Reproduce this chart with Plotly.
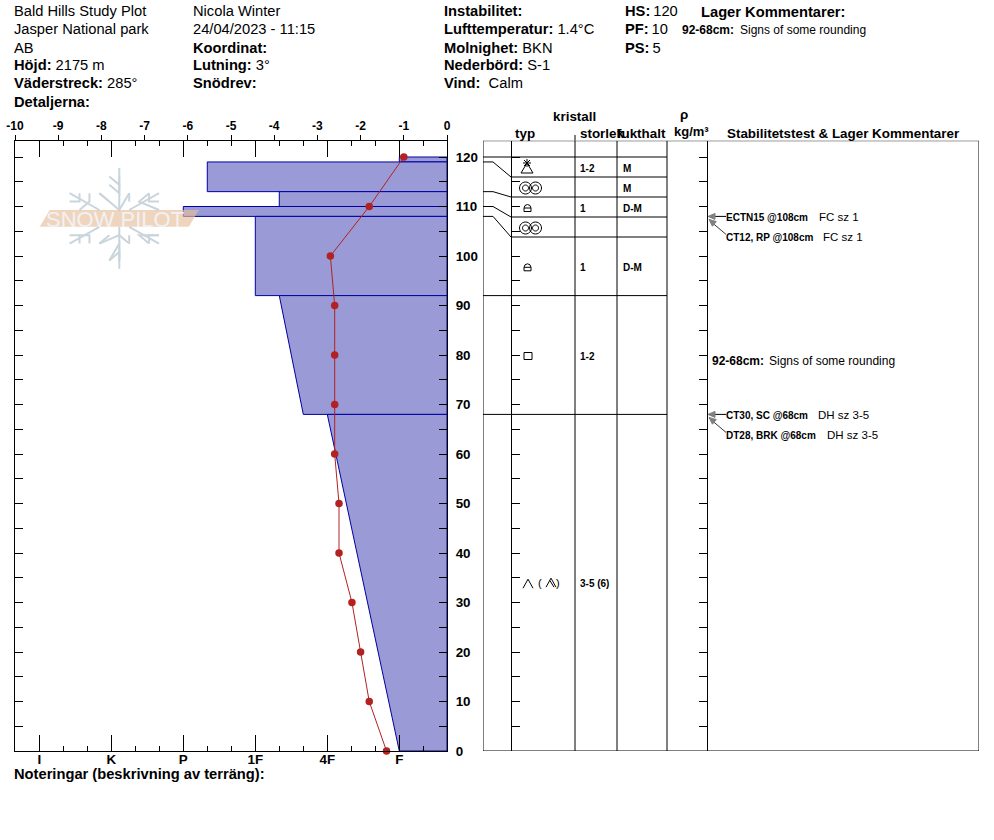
import math
import plotly.graph_objects as go

W, H = 994, 840
FONT = "Liberation Sans"

# Temperature profile
temp_depth = [120, 110, 100, 90, 80, 70, 60, 50, 40, 30, 20, 10, 0]
temp_value = [-1.0, -1.8, -2.7, -2.6, -2.6, -2.6, -2.6, -2.5, -2.5, -2.2, -2.0, -1.8, -1.4]

# Layers (top to bottom). Hardness index: F=1, 4F=2, 1F=3, P=4, K=5, I=6
layer_top = [120, 119, 113, 110, 108, 92, 68]
layer_bottom = [119, 113, 110, 108, 92, 68, 0]
hard_top = [1.0, 3.667, 2.667, 4.0, 3.0, 2.667, 2.0]
hard_bottom = [1.0, 3.667, 2.667, 4.0, 3.0, 2.333, 1.0]
layer_symbol = ["pp", "mf", "fc", "mf", "fc", "sq", "dh"]
layer_size = ["1-2", "", "1", "", "1", "1-2", "3-5 (6)"]
layer_moist = ["M", "M", "D-M", "", "D-M", "", ""]

hard_ticks = [1, 2, 3, 4, 5, 6]
hard_labels = ["F", "4F", "1F", "P", "K", "I"]
temp_ticks = list(range(-10, 1))
temp_labels = [str(t) for t in temp_ticks]
depth_ticks = list(range(0, 121, 5))
depth_labels = [str(d) if d % 10 == 0 else "" for d in depth_ticks]

# Stability tests: (depth, bold, regular, regular x)
test_depth = [108, 108, 68, 68]
test_name = ["ECTN15 @108cm", "CT12, RP @108cm", "CT30, SC @68cm", "DT28, BRK @68cm"]
test_note = ["FC sz 1", "FC sz 1", "DH sz 3-5", "DH sz 3-5"]
test_note_x = [817, 821, 816, 825]

# Frame geometry (pixels)
PL, PR, PT, PB = 15, 447, 140.7, 751
CM_PX = 4.95
DEPTH_MAX = (PB - PT) / CM_PX
HARD_PX = 72
HARD_RIGHT = 1 - (PR - 399.3) / HARD_PX
HARD_LEFT = HARD_RIGHT + (PR - PL) / HARD_PX
TBL_L, TBL_R = 483, 979
COLS = [575, 617, 667]
SPINE_A, SPINE_B = 511, 707
BLUE_LINE = "#0000a0"
BLUE_FILL = "#9a9ad6"
RED = "#b22222"


def fx(x):
    return x / W


def fy(y):
    return 1 - y / H


fig = go.Figure()

# Layer polygons on the hardness axis
for t, b, ht, hb in zip(layer_top, layer_bottom, hard_top, hard_bottom):
    fig.add_trace(go.Scatter(
        x=[HARD_RIGHT, ht, hb, HARD_RIGHT, HARD_RIGHT], y=[t, t, b, b, t],
        mode="lines", fill="toself", fillcolor=BLUE_FILL,
        line=dict(color=BLUE_LINE, width=1), xaxis="x", yaxis="y",
        hoverinfo="skip", showlegend=False))

# Temperature profile
fig.add_trace(go.Scatter(
    x=temp_value, y=temp_depth, mode="lines+markers", xaxis="x2", yaxis="y",
    line=dict(color=RED, width=1), marker=dict(color=RED, size=7.5),
    cliponaxis=False, showlegend=False))

# Empty traces so that table axes are drawn
for ya in ("y2", "y3", "y4"):
    fig.add_trace(go.Scatter(x=[], y=[], xaxis="x3", yaxis=ya, showlegend=False))

shapes = []
ann = []


def text(x, y, s, size=14.7, anchor="left", color="black"):
    ann.append(dict(x=fx(x), y=fy(y), xref="paper", yref="paper", text=s, showarrow=False,
                    xanchor=anchor, yanchor="middle", xshift=-1,
                    font=dict(family=FONT, size=size, color=color), borderpad=0))


def tbl_line(x0, y0, x1, y1):
    shapes.append(dict(type="line", xref="x3", yref="y2", x0=x0, x1=x1, y0=y0, y1=y1,
                       line=dict(color="black", width=1)))


def glyph(x, cm, path, width=1.0, fill=None, color="black"):
    s = dict(type="path", xref="x3", yref="y2", xsizemode="pixel", ysizemode="pixel",
             xanchor=x, yanchor=cm, path=path, line=dict(color=color, width=width))
    if fill:
        s["fillcolor"] = fill
    shapes.append(s)


def poly(pts, close=False):
    p = "M" + " L".join(f"{a:.2f},{b:.2f}" for a, b in pts)
    return p + (" Z" if close else "")


def ring(cx, cy, r):
    return poly([(cx + r * math.cos(i * math.pi / 12), cy + r * math.sin(i * math.pi / 12))
                 for i in range(24)], True)


SYMBOLS = {
    "pp": " ".join([poly([(-6, -5), (6, -5), (0, 5)], True), poly([(-4, 5), (4, 5)]),
                    poly([(-3, 8), (3, 2)]), poly([(-3, 2), (3, 8)]), poly([(0, 9), (0, 1)])]),
    "mf": " ".join([ring(-5, 0, 6), ring(5, 0, 6), ring(-5, 0, 3), ring(5, 0, 3)]),
    "fc": " ".join([poly([(-3.5, -3.5), (3.5, -3.5), (3.5, 0), (2.5, 2.5), (0, 3.5),
                          (-2.5, 2.5), (-3.5, 0)], True), poly([(-3.5, 0), (3.5, 0)])]),
    "sq": poly([(-4, -3.5), (4, -3.5), (4, 3.5), (-4, 3.5)], True),
    "dh": poly([(-5, -4.5), (0, 4.5), (5, -4.5)]),
}
SYMBOL_X = {"pp": 527, "mf": 530.5, "fc": 527.5, "sq": 528, "dh": 528}

# Table frame
shapes.append(dict(type="rect", xref="x3", yref="y2", x0=TBL_L, x1=TBL_R, y0=0, y1=DEPTH_MAX,
                   line=dict(color="black", width=1)))
for c in COLS:
    tbl_line(c, 0, c, DEPTH_MAX)
shapes.append(dict(type="line", xref="x3", yref="paper", x0=COLS[0], x1=COLS[0],
                   y0=fy(135), y1=fy(PT), line=dict(color="black", width=1)))

# Table rows: every row at least 20 px high, pushed down from the snow surface
row_min = 20 / CM_PX
row_top = layer_top[0]
tbl_line(TBL_L, row_top, COLS[2], row_top)
for i in range(len(layer_top)):
    true_b = layer_bottom[i]
    row_b = max(0, min(true_b, row_top - row_min))
    center = (row_top + row_b) / 2
    if true_b > 0:
        tbl_line(SPINE_A, row_b, COLS[2], row_b)
        if abs(true_b - row_b) < 1e-6:
            tbl_line(TBL_L, row_b, SPINE_A, row_b)
        else:
            shapes.append(dict(type="path", xref="x3", yref="y2",
                               path=f"M{TBL_L},{true_b} L493,{true_b} L{SPINE_A},{row_b}",
                               line=dict(color="black", width=1)))
    sym = layer_symbol[i]
    glyph(SYMBOL_X[sym], center - 1 / CM_PX, SYMBOLS[sym])
    if layer_size[i]:
        ann.append(dict(x=578, y=center, xref="x3", yref="y2", text=f"<b>{layer_size[i]}</b>",
                        showarrow=False, xanchor="left", yanchor="middle", yshift=-1,
                        font=dict(family=FONT, size=10, color="black")))
    if layer_moist[i]:
        ann.append(dict(x=621, y=center, xref="x3", yref="y2", text=f"<b>{layer_moist[i]}</b>",
                        showarrow=False, xanchor="left", yanchor="middle", yshift=-1,
                        font=dict(family=FONT, size=10, color="black")))
    if sym == "dh":
        glyph(551, center, " ".join([poly([(-5, -4.5), (0, 4.5), (5, -4.5)]), poly([(-1, 2), (3, -4.5)])]))
        text(541, PB - CM_PX * center, "(", 11, "center")
        text(559, PB - CM_PX * center, ")", 11, "center")
    row_top = row_b

# Stability test labels and arrows
for k, (d, name, note, nx) in enumerate(zip(test_depth, test_name, test_note, test_note_x)):
    second = k % 2 == 1
    shift = -21 if second else -1
    ann.append(dict(x=724, y=d, xref="x3", yref="y2", text=f"<b>{name}</b>", showarrow=False,
                    xanchor="left", yanchor="middle", yshift=shift,
                    font=dict(family=FONT, size=10, color="black")))
    ann.append(dict(x=nx, y=d, xref="x3", yref="y2", text=note, showarrow=False,
                    xanchor="left", yanchor="middle", yshift=shift,
                    font=dict(family=FONT, size=11.5, color="black")))
    if second:
        glyph(SPINE_B, d, poly([(19, -18), (6, -7)]), width=0.8)
        glyph(SPINE_B, d, poly([(2, -3), (9.3, -5.2), (5.4, -9.8)], True), fill="#808080", color="#808080")
    else:
        glyph(SPINE_B, d, poly([(19, 0), (5, 0)]), width=1)
        glyph(SPINE_B, d, poly([(1, 0), (8, 3), (8, -3)], True), fill="#808080", color="#808080")

# Watermark
FX, FY = 115.7, 219
FLAKE = "#c9d5dc"


def arm(angle, start, length):
    ca, sa = math.cos(angle), math.sin(angle)

    def P(t, s):
        return (FX + t * sa + s * ca, FY - t * ca + s * sa)
    segs = [[P(start, 0), P(length, 0)]]
    for base, tip, lat in [(length - 11, length - 3, 6), (length - 20, length - 9, 8)]:
        segs.append([P(tip, -lat), P(base, 0), P(tip, lat)])
    return segs


flake = []
for n in range(6):
    ang = n * math.pi / 3
    vertical = n in (0, 3)
    for seg in arm(ang, 11 if vertical else 21, 47 if vertical else 49):
        flake.append(seg)
    if vertical:
        ca, sa = math.cos(ang), math.sin(ang)
        flake.append([(FX + 27 * sa - 13 * ca, FY - 27 * ca - 13 * sa), (FX + 13 * sa, FY - 13 * ca),
                      (FX + 27 * sa + 13 * ca, FY - 27 * ca + 13 * sa)])
    ang2 = ang + math.pi / 6
    if n not in (1, 4):
        flake.append([(FX + 18 * math.sin(ang2), FY - 18 * math.cos(ang2)),
                      (FX + 27 * math.sin(ang2), FY - 27 * math.cos(ang2))])
for seg in flake:
    shapes.append(dict(type="path", xref="paper", yref="paper", layer="above",
                       path=poly([(fx(a), fy(b)) for a, b in seg]),
                       line=dict(color=FLAKE, width=2)))
shapes.append(dict(type="path", xref="paper", yref="paper", layer="above",
                   path=poly([(fx(38), fy(229)), (fx(48), fy(209)), (fx(195), fy(209)), (fx(185), fy(229))], True),
                   fillcolor="rgba(232,190,155,0.65)", line=dict(width=0)))
text(116, 220, "SNOW PILOT", 22, "center", "#f1f1f3")

# Header
for x, lines in [
    (14, ["Bald Hills Study Plot", "Jasper National park", "AB", "<b>Höjd:</b> 2175 m",
          "<b>Väderstreck:</b> 285°", "<b>Detaljerna:</b>"]),
    (193, ["Nicola Winter", "24/04/2023 - 11:15", "<b>Koordinat:</b>", "<b>Lutning:</b> 3°",
           "<b>Snödrev:</b>"]),
    (444, ["<b>Instabilitet:</b>", "<b>Lufttemperatur:</b> 1.4°C", "<b>Molnighet:</b> BKN",
           "<b>Nederbörd:</b> S-1", "<b>Vind:</b>  Calm"]),
    (625, ["<b>HS:</b>\u2009120", "<b>PF:</b>\u200910", "<b>PS:</b>\u20095"]),
]:
    for i, s in enumerate(lines):
        text(x, 11.5 + 18 * i, s, 14.7)
text(701, 12, "<b>Lager Kommentarer:</b>", 14.7)
text(682, 30, "<b>92-68cm:</b>", 12)
text(740, 30, "Signs of some rounding", 12)
text(712, 361, "<b>92-68cm:</b>", 12)
text(769, 361, "Signs of some rounding", 12)
text(14, 774, "<b>Noteringar (beskrivning av terräng):</b>", 14.7)

# Column headers
text(575, 117, "<b>kristall</b>", 13.4, "center")
text(526, 133, "<b>typ</b>", 13.4, "center")
text(580, 133, "<b>storlek</b>", 13.4)
text(617, 133, "<b>fukthalt</b>", 13.4)
text(685, 115, "<b>ρ</b>", 13.4, "center")
text(692, 131, "<b>kg/m³</b>", 13, "center")
text(727, 133, "<b>Stabilitetstest &amp; Lager Kommentarer</b>", 13.4)

dom_y = [fy(PB), fy(PT)]
dom_x = [fx(PL), fx(PR)]
dom_t = [fx(TBL_L), fx(TBL_R)]
bold13 = dict(family=FONT, size=13.4, color="black", weight=700)

fig.update_layout(
    template="none",
    width=W, height=H, margin=dict(l=0, r=0, t=0, b=0, pad=0, autoexpand=False), autosize=False,
    paper_bgcolor="white", plot_bgcolor="white", showlegend=False,
    font=dict(family=FONT, color="black"),
    xaxis=dict(domain=dom_x, range=[HARD_LEFT, HARD_RIGHT], anchor="y", side="bottom", automargin=False,
               showgrid=False, zeroline=False, showline=True, linecolor="black", linewidth=1,
               mirror="ticks", ticks="inside", ticklen=16, tickcolor="black", tickwidth=1,
               tickmode="array", tickvals=hard_ticks, ticktext=hard_labels, tickfont=bold13,
               ticklabelstandoff=-4,
               minor=dict(ticks="inside", ticklen=5, tickcolor="black", tickwidth=1,
                          tickmode="array", tickvals=[h / 3 for h in range(1, 19)], showgrid=False)),
    xaxis2=dict(domain=dom_x, range=[-10, 0], overlaying="x", anchor="y", side="top", automargin=False,
                showgrid=False, zeroline=False, showline=False, ticks="outside", ticklen=5,
                tickcolor="black", tickwidth=1, tickmode="array", tickvals=temp_ticks,
                ticktext=temp_labels, tickfont=dict(family=FONT, size=12, color="black", weight=700)),
    yaxis=dict(domain=dom_y, range=[0, DEPTH_MAX], anchor="x", side="right", automargin=False,
               showgrid=False, zeroline=False, showline=True, linecolor="black", linewidth=1,
               mirror="ticks", ticks="inside", ticklen=8, tickcolor="black", tickwidth=1,
               tickmode="array", tickvals=depth_ticks, ticktext=depth_labels, tickfont=bold13,
               ticklabelstandoff=5),
    xaxis3=dict(domain=dom_t, range=[TBL_L, TBL_R], anchor="y2", visible=False, automargin=False),
    yaxis2=dict(domain=dom_y, range=[0, DEPTH_MAX], anchor="x3", visible=False, automargin=False),
    yaxis3=dict(domain=dom_y, range=[0, DEPTH_MAX], overlaying="y2", anchor="free", automargin=False,
                position=fx(SPINE_A), side="left", showgrid=False, zeroline=False,
                showline=True, linecolor="black", linewidth=1, ticks="inside", ticklen=8,
                tickcolor="black", tickmode="array", tickvals=depth_ticks, showticklabels=False),
    yaxis4=dict(domain=dom_y, range=[0, DEPTH_MAX], overlaying="y2", anchor="free", automargin=False,
                position=fx(SPINE_B), side="right", showgrid=False, zeroline=False,
                showline=True, linecolor="black", linewidth=1, ticks="inside", ticklen=8,
                tickcolor="black", tickmode="array", tickvals=depth_ticks, showticklabels=False),
    shapes=shapes, annotations=ann,
)

fig.write_html("out.html", config={"displayModeBar": False},
               post_script="document.body.style.margin='0';document.body.style.overflow='hidden';")
